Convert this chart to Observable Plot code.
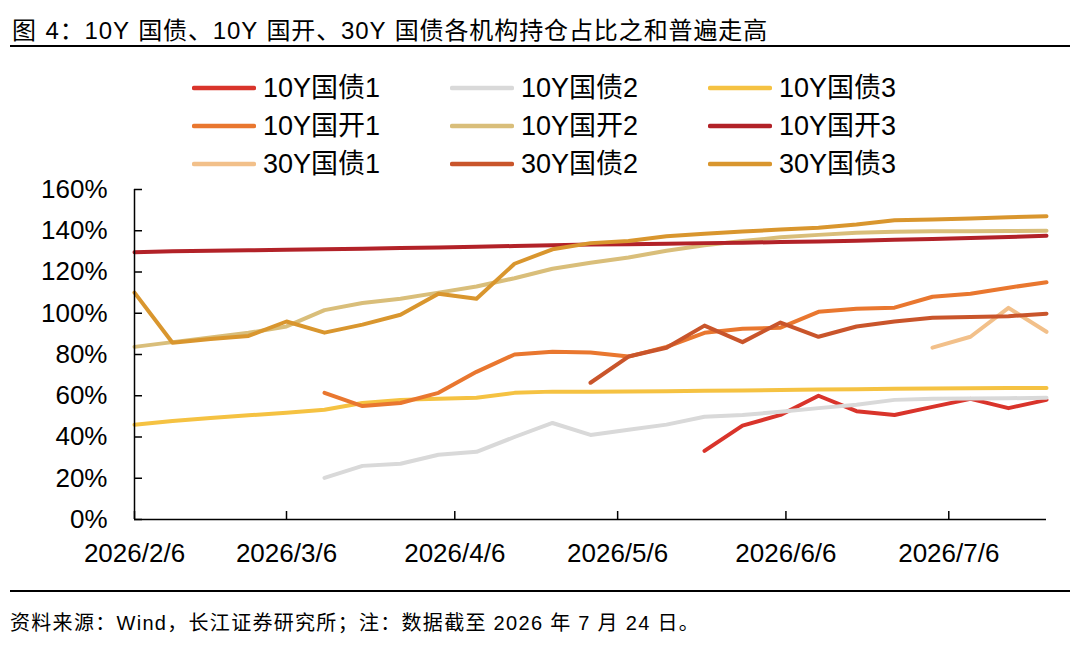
<!DOCTYPE html>
<html><head><meta charset="utf-8">
<script src="https://cdn.jsdelivr.net/npm/d3@7"></script>
<script src="https://cdn.jsdelivr.net/npm/@observablehq/plot@0.6"></script>
<style>
body{margin:0;background:#fff;width:1080px;height:661px;overflow:hidden;position:relative;font-family:"Liberation Sans",Arial,"Noto Sans CJK SC",sans-serif;color:#000}
#title{position:absolute;left:12px;top:17px;font-size:24px;line-height:28px;letter-spacing:0.9px;word-spacing:1px;white-space:nowrap}
#rule1{position:absolute;left:10px;width:1060px;top:45px;height:2px;background:#000}
#rule2{position:absolute;left:10px;width:1060px;top:590px;height:2px;background:#000}
#note{position:absolute;left:10px;top:611px;font-size:20px;line-height:24px;letter-spacing:1.3px;white-space:nowrap}
.item{position:absolute;z-index:2;display:flex;align-items:center;font-size:27px;line-height:32px;height:32px;white-space:nowrap}
.item svg{margin-right:7px}
#chart{position:absolute;left:0;top:170px;z-index:1}
</style></head><body>
<div id="title"></div>
<div id="rule1"></div>
<div id="chart"></div>
<div id="legend"></div>
<div id="rule2"></div>
<div id="note"></div>
<script>
const titleText = "图 4：10Y 国债、10Y 国开、30Y 国债各机构持仓占比之和普遍走高";
const noteText = "资料来源：Wind，长江证券研究所；注：数据截至 2026 年 7 月 24 日。";

const dates = ["2026-02-06","2026-02-13","2026-02-20","2026-02-27","2026-03-06","2026-03-13","2026-03-20","2026-03-27","2026-04-03","2026-04-10","2026-04-17","2026-04-24","2026-05-01","2026-05-08","2026-05-15","2026-05-22","2026-05-29","2026-06-05","2026-06-12","2026-06-19","2026-06-26","2026-07-03","2026-07-10","2026-07-17","2026-07-24"];
const xTickDates = ["2026-02-06","2026-03-06","2026-04-06","2026-05-06","2026-06-06","2026-07-06"];
const xTickLabels = ["2026/2/6","2026/3/6","2026/4/6","2026/5/6","2026/6/6","2026/7/6"];
const yTicks = [0,20,40,60,80,100,120,140,160];

const seriesNames = ["10Y国债1","10Y国债2","10Y国债3","10Y国开1","10Y国开2","10Y国开3","30Y国债1","30Y国债2","30Y国债3"];
const seriesColors = ["#D9342B","#D9D9D9","#F5C242","#E9772F","#D9BE7A","#B22228","#F2C08A","#C9552B","#D9962E"];

const gz10_1 = [null,null,null,null,null,null,null,null,null,null,null,null,null,null,null,33.3,45.5,50.7,60,52.5,50.7,54.6,58.5,54,58];
const gz10_2 = [null,null,null,null,null,20.2,26,27,31.4,32.8,40,46.8,41,43.5,46,49.8,50.7,52.2,54,55.6,58,58.5,58.7,58.8,59];
const gz10_3 = [45.9,47.8,49.2,50.5,51.7,53.2,56.5,58,58.5,59,61.4,62,62,62.1,62.2,62.4,62.5,62.8,63,63.2,63.4,63.5,63.6,63.7,63.8];
const gk10_1 = [null,null,null,null,null,61.4,55,56.5,61.4,71.6,80,81.3,81,79,83.7,90.5,92.5,93,100.7,102.2,102.7,108,109.5,112.4,115];
const gk10_2 = [83.7,86,88.3,90.5,93.6,101.5,105,107,110,113,117,121.6,124.5,127,130.3,133,135,136.8,138,139,139.5,139.7,139.8,139.9,140];
const gk10_3 = [129.6,130.1,130.3,130.5,130.8,131,131.3,131.6,131.9,132.2,132.6,133,133.3,133.5,133.7,134,134.2,134.5,134.8,135.2,135.6,136,136.5,137,137.6];
const gz30_1 = [null,null,null,null,null,null,null,null,null,null,null,null,null,null,null,null,null,null,null,null,null,83.3,88.6,102.6,91];
const gz30_2 = [null,null,null,null,null,null,null,null,null,null,null,null,66.3,79,83.3,94,86,95.5,88.6,93.6,96,97.8,98.2,98.6,99.8];
const gz30_3 = [110,85.7,87.5,89,96,90.6,94.5,99.3,109.5,107,124,131,134,135,137.3,138.5,139.6,140.6,141.4,143,145.1,145.4,145.9,146.6,147];
const seriesValues = [gz10_1,gz10_2,gz10_3,gk10_1,gk10_2,gk10_3,gz30_1,gz30_2,gz30_3];

document.getElementById("title").textContent = titleText;
document.getElementById("note").textContent = noteText;

// legend
const legendCols = [192, 450, 708];
const legendRows = [88, 126, 164];
const legend = document.getElementById("legend");
seriesNames.forEach((name, i) => {
  const div = document.createElement("div");
  div.className = "item";
  div.style.left = legendCols[i % 3] + "px";
  div.style.top = (legendRows[Math.floor(i / 3)] - 16) + "px";
  div.innerHTML = `<svg width="64" height="8"><line x1="2" y1="4" x2="62" y2="4" stroke="${seriesColors[i]}" stroke-width="4.5" stroke-linecap="round"/></svg><span>${name}</span>`;
  legend.appendChild(div);
});

const parse = d3.utcParse("%Y-%m-%d");
const rows = [];
seriesValues.forEach((vals, s) => vals.forEach((v, i) => {
  if (v != null) rows.push({series: seriesNames[s], date: parse(dates[i]), value: v});
}));
const xDomain = [parse(dates[0]), parse(dates[dates.length - 1])];
const tickDates = xTickDates.map(parse);

const chart = Plot.plot({
  width: 1080,
  height: 410,
  marginTop: 19,
  marginBottom: 61,
  marginLeft: 134,
  marginRight: 34,
  style: {fontFamily: '"Liberation Sans", Arial, "Noto Sans CJK SC", sans-serif', fontSize: "26px", color: "#000", background: "transparent", overflow: "visible"},
  x: {type: "utc", domain: xDomain},
  y: {domain: [0, 160]},
  marks: [
    ...seriesNames.map((name, s) => Plot.line(rows.filter(r => r.series === name), {
      x: "date", y: "value", stroke: seriesColors[s], strokeWidth: 4, strokeLinejoin: "round", strokeLinecap: "round"
    })),
    Plot.ruleY([0], {stroke: "#000", strokeWidth: 1.5}),
    Plot.ruleX([xDomain[0]], {stroke: "#000", strokeWidth: 1.5}),
    Plot.axisY(yTicks, {tickSize: -8, tickPadding: 35, tickFormat: d => d + "%", fontSize: 26, stroke: "#000", strokeWidth: 1.5, label: null}),
    Plot.axisX(tickDates, {tickSize: -8, tickPadding: 32, tickFormat: d => xTickLabels[tickDates.findIndex(t => +t === +d)], fontSize: 26, stroke: "#000", strokeWidth: 1.5, label: null})
  ]
});
document.getElementById("chart").appendChild(chart);
</script>
</body></html>
